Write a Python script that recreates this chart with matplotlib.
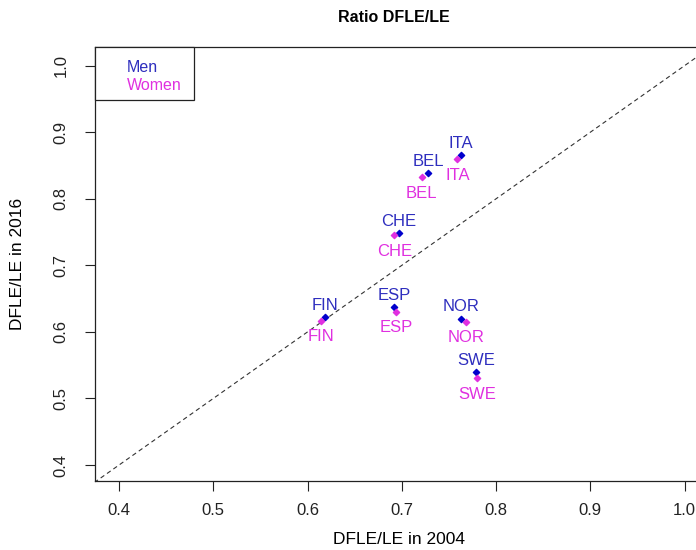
import matplotlib
matplotlib.use('Agg')
import matplotlib.pyplot as plt
from matplotlib.patches import Rectangle

plt.rcParams['font.family'] = ['Liberation Sans', 'DejaVu Sans']

countries = ['ITA', 'BEL', 'CHE', 'FIN', 'ESP', 'NOR', 'SWE']
men_2004 = [0.763, 0.728, 0.697, 0.619, 0.692, 0.763, 0.779]
men_2016 = [0.866, 0.839, 0.748, 0.622, 0.637, 0.620, 0.539]
women_2004 = [0.759, 0.721, 0.692, 0.614, 0.694, 0.768, 0.780]
women_2016 = [0.859, 0.832, 0.745, 0.617, 0.630, 0.615, 0.530]

legend_labels = ['Men', 'Women']
xticks = [0.4, 0.5, 0.6, 0.7, 0.8, 0.9, 1.0]
yticks = [0.4, 0.5, 0.6, 0.7, 0.8, 0.9, 1.0]

blue_pt = '#0000cc'
blue_txt = '#2e2ebe'
mag = '#e030e0'

W, H = 696, 550
fig = plt.figure(figsize=(W / 100, H / 100), dpi=100)
ax = fig.add_axes([95/W, 69/H, 616/W, 434/H])

ax.plot([0, 1.1], [0, 1.1], linestyle=(0, (4, 3)), color='#333333', lw=0.8)

ax.scatter(men_2004, men_2016, marker='D', s=10, color=blue_pt, zorder=3)
ax.scatter(women_2004, women_2016, marker='D', s=10, color=mag, zorder=3)

for c, x, y in zip(countries, men_2004, men_2016):
    ax.annotate(c, (x, y), xytext=(0, 3), textcoords='offset points',
                ha='center', va='bottom', fontsize=12, color=blue_txt)
for c, x, y in zip(countries, women_2004, women_2016):
    ax.annotate(c, (x, y), xytext=(0, -6), textcoords='offset points',
                ha='center', va='top', fontsize=12, color=mag)

ax.set_xlim(0.3745, 1.028)
ax.set_ylim(0.376, 1.028)
ax.set_xticks(xticks)
ax.set_yticks(yticks)
ax.set_xticklabels([f'{v:.1f}' for v in xticks])
ax.set_yticklabels([f'{v:.1f}' for v in yticks], rotation=90, va='center')
ax.tick_params(axis='both', direction='out', length=7, width=0.8,
               labelsize=12, colors='#222222')
ax.tick_params(axis='x', pad=9)
ax.tick_params(axis='y', pad=12)
for s in ax.spines.values():
    s.set_color('#222222')
    s.set_linewidth(0.9)

# legend box drawn by hand (text only, like R's legend without symbols)
fig.add_artist(Rectangle((95/W, 1 - 100/H), 99/W, 53/H, transform=fig.transFigure,
                         facecolor='white', edgecolor='#222222', lw=0.9, zorder=5))
for lab, col, yp in zip(legend_labels, [blue_txt, mag], [68, 85]):
    fig.text(127/W, 1 - yp/H, lab, ha='left', va='center', fontsize=11.5,
             color=col, zorder=6)

fig.text(394/W, 1 - 18/H, 'Ratio DFLE/LE', ha='center', va='center',
         fontsize=11.5, fontweight='bold')
fig.text(399/W, 1 - 539/H, 'DFLE/LE in 2004', ha='center', va='center',
         fontsize=12.5)
fig.text(18/W, 1 - 264/H, 'DFLE/LE in 2016', ha='center', va='center',
         fontsize=12.5, rotation=90)

fig.savefig('out.png', dpi=100)
